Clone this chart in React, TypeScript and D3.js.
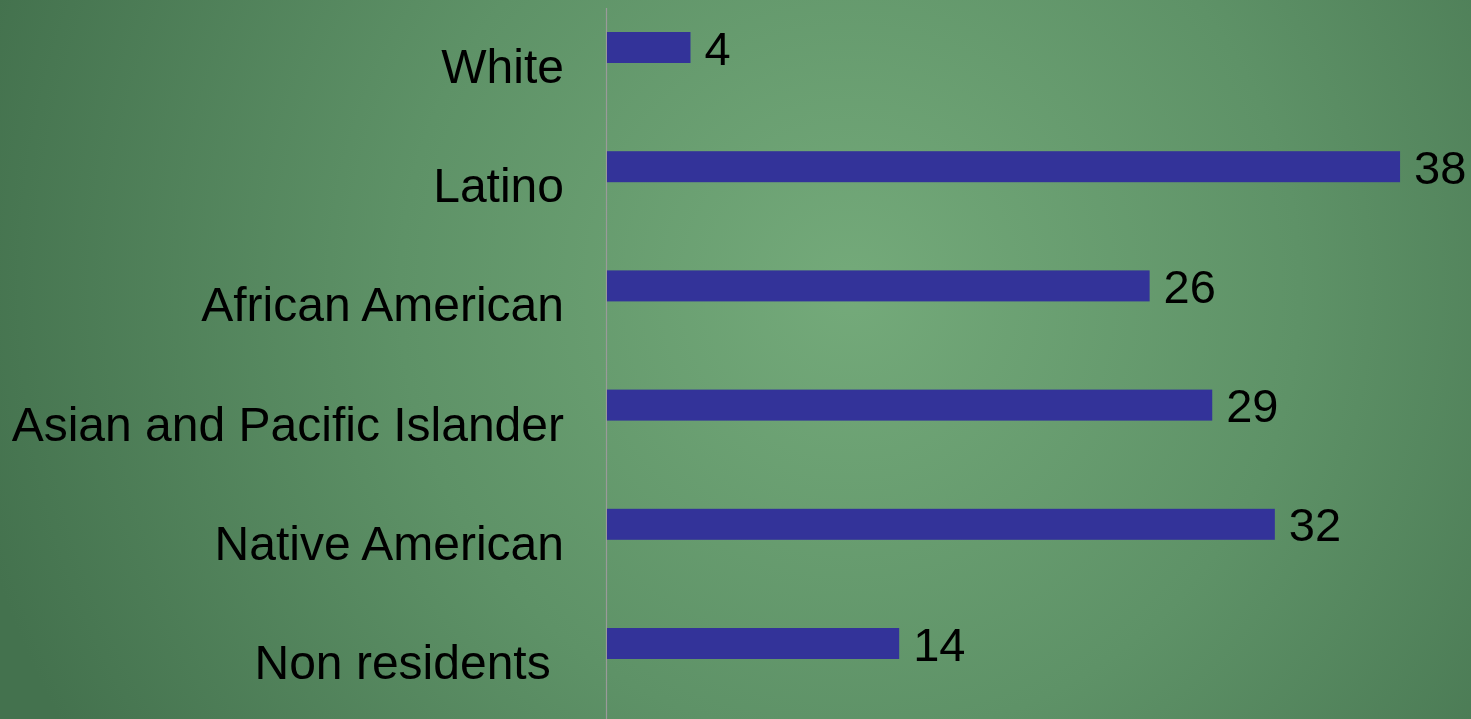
import React from "react";
import * as d3 from "d3";

const categories = ["White", "Latino", "African American", "Asian and Pacific Islander", "Native American", "Non residents "];
const values = [4, 38, 26, 29, 32, 14];

const W = 1471;
const H = 719;

export default function App() {
  const x = d3.scaleLinear().domain([0, 40]).range([607, 607 + 40 * 20.87]);
  const y = d3.scaleBand<string>().domain(categories).range([32, 32 + 6 * 119.2]).paddingInner(0);
  const barH = 31;
  return (
    <svg width={W} height={H} style={{ position: "fixed", left: 0, top: 0, display: "block" }}
      fontFamily="'Liberation Sans', Arial, sans-serif">
      <defs>
        <radialGradient id="bg" gradientUnits="userSpaceOnUse" cx={850} cy={290} r={900}>
          <stop offset="0" stopColor="#74aa7a" />
          <stop offset="0.5" stopColor="#5e9267" />
          <stop offset="1" stopColor="#44724e" />
        </radialGradient>
      </defs>
      <rect x={0} y={0} width={W} height={H} fill="url(#bg)" />
      <line x1={x(0) - 0.5} x2={x(0) - 0.5} y1={8} y2={H} stroke="#9a9a9a" strokeWidth={1.2} />
      {categories.map((c, i) => {
        const by = y(c)!;
        return (
          <g key={c}>
            <rect x={x(0)} y={by} width={x(values[i]) - x(0)} height={barH} fill="#333399" />
            <text x={x(values[i]) + 14} y={by + barH / 2 + 17} fontSize={47} fill="#000">{values[i]}</text>
            <text x={564} y={by + barH / 2 + 35.5} fontSize={48} textAnchor="end" fill="#000"
              style={{ whiteSpace: "pre" }}>{c}</text>
          </g>
        );
      })}
    </svg>
  );
}
